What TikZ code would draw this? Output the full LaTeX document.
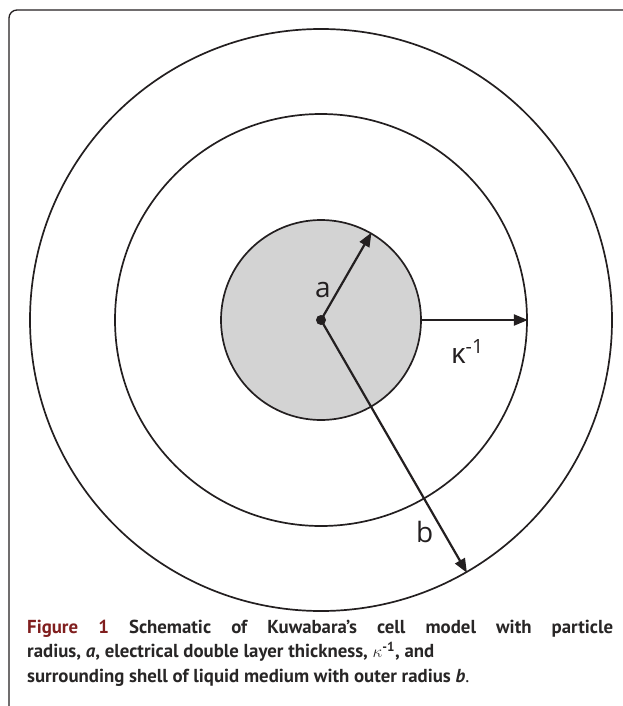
\documentclass[tikz,border=0pt]{standalone}
\usepackage{fontspec}
\setmainfont{PT Sans}
\newfontfamily\labelfont{Open Sans}
\usetikzlibrary{arrows.meta}
\definecolor{figred}{RGB}{128,30,30}
\definecolor{captiongray}{RGB}{40,38,38}
\definecolor{particlegray}{RGB}{211,211,211}
\definecolor{inkblack}{RGB}{35,31,32}

\begin{document}
\begin{tikzpicture}[x=1pt, y=-1pt,
    ring/.style={circle, draw=inkblack, line width=1.7pt, inner sep=0pt},
    radius arrow/.style={draw=inkblack, line width=2.2pt, -{Triangle[length=14pt, width=11pt]}},
    radiuslabel/.style={anchor=base west, inner sep=0pt, text=inkblack,
        font=\labelfont\fontsize{28}{28}\selectfont}]
    \useasboundingbox (0, 0) rectangle (623, 706);

    % Frame
    \draw [inkblack, line width=1.3pt, rounded corners=8pt] (623, 10) -- (9, 10) -- (9, 706);

    % Cell, double layer and particle
    \coordinate (o) at (321, 320);
    \node [ring, minimum size=582pt] (cell) at (o) {};
    \node [ring, minimum size=412pt] (layer) at (o) {};
    \node [ring, fill=particlegray, minimum size=200pt] (particle) at (o) {};
    \fill [inkblack] (o) circle (5);

    % Radii
    \draw [radius arrow] (o) -- (particle.60);
    \draw [radius arrow] (particle.0) -- (layer.0);
    \draw [radius arrow] (o) -- (cell.-60);
    \node [radiuslabel] (a) at (315, 297) {a};
    \node [radiuslabel] (k) at (451, 363) {κ\textsuperscript{-1}};
    \node [radiuslabel] (b) at (416, 542) {b};

    % Caption
    \node [anchor=base west, text width=586pt, align=justify, inner sep=0pt, text=captiongray,
        font=\fontsize{18.8}{24.5}\selectfont\bfseries] (caption) at (27, 633)
        {{\color{figred}Figure 1} Schematic of Kuwabara’s cell model with particle\linebreak
        radius, \textit{a}, electrical double layer thickness, $\kappa$\textsuperscript{-1}, and\\
        surrounding shell of liquid medium with outer radius \textit{b}{\mdseries.}};
\end{tikzpicture}
\end{document}
